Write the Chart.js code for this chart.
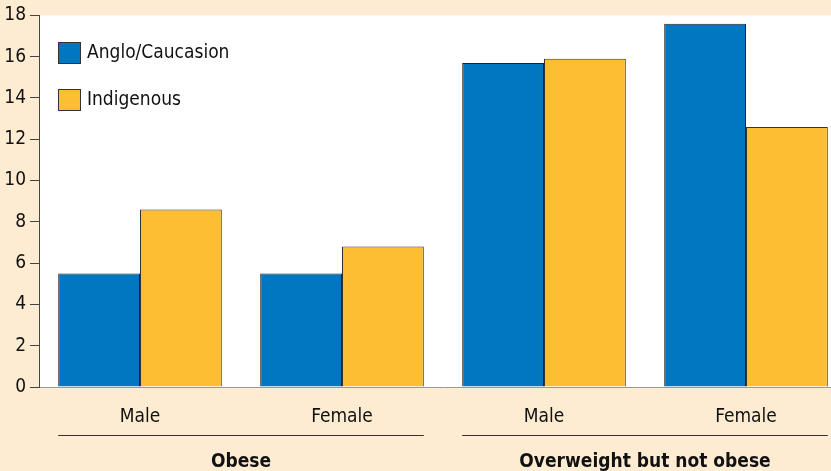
<!DOCTYPE html>
<html>
<head>
<meta charset="utf-8">
<script src="https://cdn.jsdelivr.net/npm/chart.js@4/dist/chart.umd.min.js"></script>
<style>
  html, body { margin: 0; padding: 0; background: #fdecd1; overflow: hidden; }
  #wrap { width: 847px; height: 471px; }
</style>
</head>
<body>
<div id="wrap"><canvas id="chart" width="847" height="471"></canvas></div>
<script>
// data
const categories = ['Male', 'Female', 'Male', 'Female'];
const groups = ['Obese', 'Overweight but not obese'];
const seriesNames = ['Anglo/Caucasion', 'Indigenous'];
const angloValues = [5.5, 5.5, 15.7, 17.6];
const indigenousValues = [8.6, 6.8, 15.9, 12.6];
const yTicks = [0, 2, 4, 6, 8, 10, 12, 14, 16, 18];

const FONT = "'DejaVu Sans Condensed', 'Liberation Sans Narrow', sans-serif";
const colors = ['#0077c0', '#fdbe33'];

const plotBg = {
    id: 'plotBg',
    beforeDraw(chart) {
        const { ctx, chartArea } = chart;
        ctx.save();
        ctx.fillStyle = '#fdecd1';
        ctx.fillRect(0, 0, chart.width, chart.height);
        ctx.fillStyle = '#ffffff';
        ctx.fillRect(chartArea.left, chartArea.top, chartArea.right - chartArea.left, chartArea.bottom - chartArea.top);
        ctx.restore();
    }
};

const extras = {
    id: 'extras',
    afterDraw(chart) {
        const { ctx, chartArea } = chart;
        ctx.save();
        // legend inside plot
        ctx.font = '19px ' + FONT;
        ctx.textBaseline = 'middle';
        seriesNames.forEach((name, i) => {
            const y = 42 + i * 47;
            ctx.fillStyle = colors[i];
            ctx.fillRect(chartArea.left + 19, y, 22, 21);
            ctx.strokeStyle = '#333';
            ctx.lineWidth = 1;
            ctx.strokeRect(chartArea.left + 19.5, y + 0.5, 22, 21);
            ctx.fillStyle = '#111';
            ctx.fillText(name, chartArea.left + 48, y + 11);
        });
        // group labels under pairs of categories
        const m0 = chart.getDatasetMeta(0).data;
        const m1 = chart.getDatasetMeta(1).data;
        groups.forEach((g, gi) => {
            const a = m0[gi * 2], b = m1[gi * 2 + 1];
            const x1 = a.x - a.width / 2, x2 = b.x + b.width / 2;
            ctx.strokeStyle = '#333';
            ctx.lineWidth = 1;
            ctx.beginPath();
            ctx.moveTo(x1, 435.5);
            ctx.lineTo(x2, 435.5);
            ctx.stroke();
            ctx.fillStyle = '#111';
            ctx.font = 'bold 19px ' + FONT;
            ctx.textAlign = 'center';
            ctx.fillText(g, (x1 + x2) / 2, 462);
        });
        ctx.restore();
    }
};

new Chart(document.getElementById('chart'), {
    type: 'bar',
    data: {
        labels: categories,
        datasets: [
            { label: seriesNames[0], data: angloValues, backgroundColor: colors[0], borderColor: '#222', borderWidth: 1 },
            { label: seriesNames[1], data: indigenousValues, backgroundColor: colors[1], borderColor: '#333', borderWidth: 1 }
        ]
    },
    options: {
        responsive: false,
        animation: false,
        layout: { padding: { top: 15, right: 0, left: 0, bottom: 0 } },
        datasets: { bar: { categoryPercentage: 0.81, barPercentage: 1 } },
        plugins: { legend: { display: false }, tooltip: { enabled: false } },
        scales: {
            x: {
                grid: { display: false },
                border: { color: '#999', width: 1 },
                ticks: { color: '#111', font: { family: FONT, size: 19 }, padding: 11 },
                afterFit(s) { s.height = 84; }
            },
            y: {
                min: 0, max: 18,
                afterBuildTicks(s) { s.ticks = yTicks.map(v => ({ value: v })); },
                grid: { drawOnChartArea: false, tickLength: 9, color: '#444' },
                border: { color: '#444', width: 1 },
                ticks: { color: '#111', font: { family: FONT, size: 19 }, padding: 4 },
                afterFit(s) { s.width = 39; }
            }
        }
    },
    plugins: [plotBg, extras]
});
</script>
</body>
</html>
